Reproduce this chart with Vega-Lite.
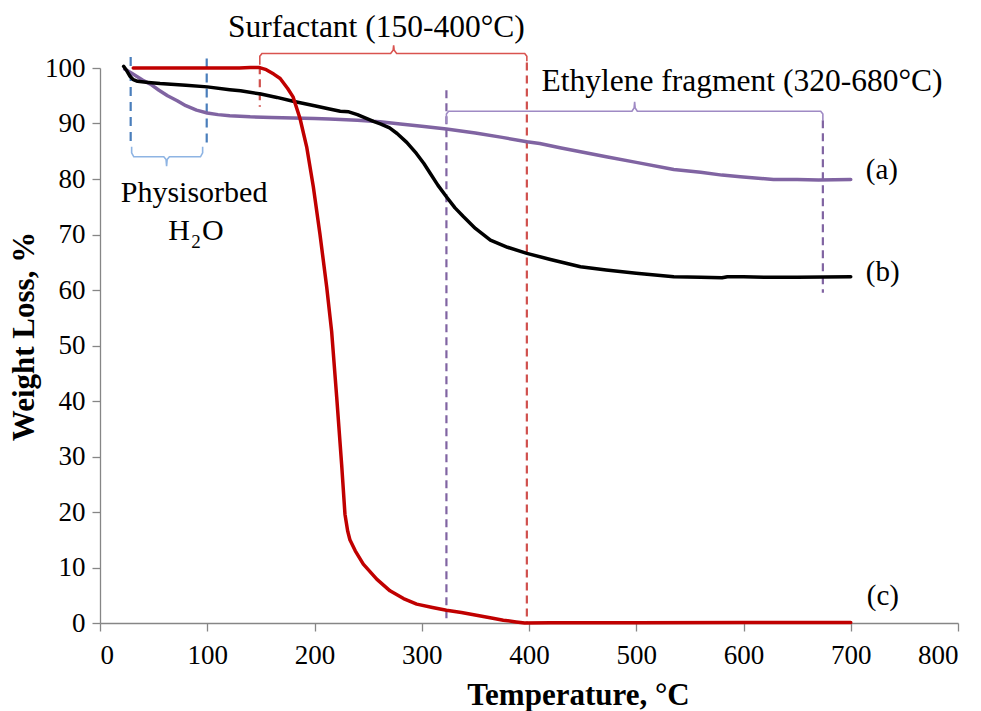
{
  "$schema": "https://vega.github.io/schema/vega-lite/v6.json",
  "width": 858,
  "height": 555,
  "autosize": {"type": "none"},
  "padding": {"left": 100, "top": 68, "right": 23, "bottom": 88},
  "background": "white",
  "config": {"view": {"stroke": null}, "font": "Liberation Serif"},
  "datasets": {
    "curves": [
      {"series": "a", "T": 23, "W": 99.8}, {"series": "a", "T": 30, "W": 99.0}, {"series": "a", "T": 40, "W": 97.8},
      {"series": "a", "T": 47, "W": 97.1}, {"series": "a", "T": 55, "W": 96.0}, {"series": "a", "T": 63, "W": 95.0},
      {"series": "a", "T": 72, "W": 94.1}, {"series": "a", "T": 80, "W": 93.2}, {"series": "a", "T": 90, "W": 92.4},
      {"series": "a", "T": 100, "W": 91.9}, {"series": "a", "T": 110, "W": 91.6}, {"series": "a", "T": 121, "W": 91.4},
      {"series": "a", "T": 140, "W": 91.2}, {"series": "a", "T": 160, "W": 91.1}, {"series": "a", "T": 180, "W": 91.0},
      {"series": "a", "T": 200, "W": 90.9}, {"series": "a", "T": 214, "W": 90.8}, {"series": "a", "T": 240, "W": 90.6},
      {"series": "a", "T": 261, "W": 90.3}, {"series": "a", "T": 280, "W": 89.9}, {"series": "a", "T": 300, "W": 89.5},
      {"series": "a", "T": 323, "W": 89.0}, {"series": "a", "T": 350, "W": 88.3}, {"series": "a", "T": 375, "W": 87.5},
      {"series": "a", "T": 398, "W": 86.7}, {"series": "a", "T": 410, "W": 86.4}, {"series": "a", "T": 430, "W": 85.6},
      {"series": "a", "T": 448, "W": 84.9}, {"series": "a", "T": 472, "W": 84.0}, {"series": "a", "T": 500, "W": 83.0},
      {"series": "a", "T": 535, "W": 81.7}, {"series": "a", "T": 560, "W": 81.2}, {"series": "a", "T": 580, "W": 80.7},
      {"series": "a", "T": 597, "W": 80.4}, {"series": "a", "T": 628, "W": 79.9}, {"series": "a", "T": 650, "W": 79.9},
      {"series": "a", "T": 670, "W": 79.8}, {"series": "a", "T": 700, "W": 79.9},
      {"series": "b", "T": 22, "W": 100.3}, {"series": "b", "T": 25, "W": 99.5}, {"series": "b", "T": 28, "W": 98.5},
      {"series": "b", "T": 31, "W": 97.9}, {"series": "b", "T": 35, "W": 97.6}, {"series": "b", "T": 45, "W": 97.4},
      {"series": "b", "T": 56, "W": 97.2}, {"series": "b", "T": 80, "W": 96.9}, {"series": "b", "T": 100, "W": 96.6},
      {"series": "b", "T": 121, "W": 96.1}, {"series": "b", "T": 131, "W": 95.9}, {"series": "b", "T": 150, "W": 95.3},
      {"series": "b", "T": 165, "W": 94.7}, {"series": "b", "T": 180, "W": 94.0}, {"series": "b", "T": 200, "W": 93.2},
      {"series": "b", "T": 214, "W": 92.6}, {"series": "b", "T": 224, "W": 92.2}, {"series": "b", "T": 232, "W": 92.1},
      {"series": "b", "T": 240, "W": 91.6}, {"series": "b", "T": 255, "W": 90.4}, {"series": "b", "T": 262, "W": 89.9},
      {"series": "b", "T": 270, "W": 89.2}, {"series": "b", "T": 277, "W": 88.2}, {"series": "b", "T": 286, "W": 86.6},
      {"series": "b", "T": 295, "W": 84.6}, {"series": "b", "T": 302, "W": 82.8}, {"series": "b", "T": 308, "W": 81.0},
      {"series": "b", "T": 315, "W": 78.9}, {"series": "b", "T": 323, "W": 76.8}, {"series": "b", "T": 331, "W": 74.8},
      {"series": "b", "T": 339, "W": 73.2}, {"series": "b", "T": 350, "W": 71.1}, {"series": "b", "T": 364, "W": 69.0},
      {"series": "b", "T": 380, "W": 67.7}, {"series": "b", "T": 398, "W": 66.6}, {"series": "b", "T": 420, "W": 65.5},
      {"series": "b", "T": 448, "W": 64.2}, {"series": "b", "T": 472, "W": 63.6}, {"series": "b", "T": 500, "W": 63.0},
      {"series": "b", "T": 535, "W": 62.4}, {"series": "b", "T": 560, "W": 62.3}, {"series": "b", "T": 580, "W": 62.2},
      {"series": "b", "T": 585, "W": 62.4}, {"series": "b", "T": 600, "W": 62.4}, {"series": "b", "T": 620, "W": 62.3},
      {"series": "b", "T": 650, "W": 62.3}, {"series": "b", "T": 700, "W": 62.4},
      {"series": "c", "T": 31, "W": 100}, {"series": "c", "T": 60, "W": 100}, {"series": "c", "T": 100, "W": 100},
      {"series": "c", "T": 130, "W": 100}, {"series": "c", "T": 140, "W": 100.1}, {"series": "c", "T": 148, "W": 100.1},
      {"series": "c", "T": 155, "W": 99.7}, {"series": "c", "T": 162, "W": 98.9}, {"series": "c", "T": 168, "W": 98.1},
      {"series": "c", "T": 175, "W": 96.3}, {"series": "c", "T": 180, "W": 94.8}, {"series": "c", "T": 186.5, "W": 90.9},
      {"series": "c", "T": 192.7, "W": 85.8}, {"series": "c", "T": 198.9, "W": 78.6}, {"series": "c", "T": 205, "W": 70.2},
      {"series": "c", "T": 211.4, "W": 60.5}, {"series": "c", "T": 216, "W": 52.5}, {"series": "c", "T": 220.7, "W": 40.7},
      {"series": "c", "T": 225.3, "W": 28.6}, {"series": "c", "T": 228.4, "W": 19.6}, {"series": "c", "T": 231, "W": 16.5},
      {"series": "c", "T": 233, "W": 15.0}, {"series": "c", "T": 238, "W": 13.0}, {"series": "c", "T": 245.5, "W": 10.6},
      {"series": "c", "T": 258, "W": 7.9}, {"series": "c", "T": 270.4, "W": 5.8}, {"series": "c", "T": 283, "W": 4.4},
      {"series": "c", "T": 295.3, "W": 3.4}, {"series": "c", "T": 310, "W": 2.8}, {"series": "c", "T": 323, "W": 2.3},
      {"series": "c", "T": 337, "W": 1.9}, {"series": "c", "T": 351, "W": 1.4}, {"series": "c", "T": 365, "W": 0.9},
      {"series": "c", "T": 376, "W": 0.5}, {"series": "c", "T": 388, "W": 0.2}, {"series": "c", "T": 396, "W": 0.0},
      {"series": "c", "T": 420, "W": 0.05}, {"series": "c", "T": 500, "W": 0.05}, {"series": "c", "T": 600, "W": 0.1},
      {"series": "c", "T": 700, "W": 0.1}
    ],
    "guides": [
      {"g": "blue", "T": 28.6, "W": 102.0, "W2": 86.2},
      {"g": "blue", "T": 99.5, "W": 101.7, "W2": 86.4},
      {"g": "red", "T": 149, "W": 100.3, "W2": 93.0},
      {"g": "red", "T": 398, "W": 101.0, "W2": 0},
      {"g": "purple", "T": 323, "W": 96.0, "W2": 0},
      {"g": "purple", "T": 674, "W": 90.6, "W2": 59.5}
    ],
    "braces": [
      {"b": "blue", "i": 0, "T": 29.5, "W": 85.8}, {"b": "blue", "i": 1, "T": 29.5, "W": 84.7},
      {"b": "blue", "i": 2, "T": 31.5, "W": 84.0}, {"b": "blue", "i": 3, "T": 59.5, "W": 84.0},
      {"b": "blue", "i": 4, "T": 61.6, "W": 83.5}, {"b": "blue", "i": 5, "T": 62.1, "W": 82.3},
      {"b": "blue", "i": 6, "T": 62.6, "W": 83.5}, {"b": "blue", "i": 7, "T": 64.7, "W": 84.0},
      {"b": "blue", "i": 8, "T": 93.7, "W": 84.0}, {"b": "blue", "i": 9, "T": 95.7, "W": 84.7},
      {"b": "blue", "i": 10, "T": 95.7, "W": 85.8},
      {"b": "red", "i": 0, "T": 149, "W": 100.6}, {"b": "red", "i": 1, "T": 149, "W": 102.1},
      {"b": "red", "i": 2, "T": 151, "W": 102.6}, {"b": "red", "i": 3, "T": 271, "W": 102.6},
      {"b": "red", "i": 4, "T": 273.3, "W": 103.2}, {"b": "red", "i": 5, "T": 273.8, "W": 104.1},
      {"b": "red", "i": 6, "T": 274.3, "W": 103.2}, {"b": "red", "i": 7, "T": 276.6, "W": 102.6},
      {"b": "red", "i": 8, "T": 396, "W": 102.6}, {"b": "red", "i": 9, "T": 398, "W": 102.1},
      {"b": "red", "i": 10, "T": 398, "W": 101.2},
      {"b": "purple", "i": 0, "T": 323, "W": 90.0}, {"b": "purple", "i": 1, "T": 323, "W": 91.7},
      {"b": "purple", "i": 2, "T": 325, "W": 92.2}, {"b": "purple", "i": 3, "T": 496, "W": 92.2},
      {"b": "purple", "i": 4, "T": 498, "W": 92.8}, {"b": "purple", "i": 5, "T": 498.5, "W": 93.9},
      {"b": "purple", "i": 6, "T": 499, "W": 92.8}, {"b": "purple", "i": 7, "T": 501, "W": 92.2},
      {"b": "purple", "i": 8, "T": 672, "W": 92.2}, {"b": "purple", "i": 9, "T": 674, "W": 91.7},
      {"b": "purple", "i": 10, "T": 674, "W": 90.6}
    ],
    "headings": [
      {"text": "Surfactant (150-400°C)", "T": 257.7, "W": 105.6},
      {"text": "Ethylene fragment (320-680°C)", "T": 598.6, "W": 95.8}
    ],
    "physisorbed": [{"text": "Physisorbed", "T": 87.7, "W": 75.9}],
    "h": [{"text": "H", "T": 83.9, "W": 69.0}],
    "sub": [{"text": "2", "T": 89.5, "W": 67.6}],
    "o": [{"text": "O", "T": 95.1, "W": 69.0}],
    "serieslabels": [
      {"text": "(a)", "T": 714, "W": 81.6},
      {"text": "(b)", "T": 714, "W": 63.3},
      {"text": "(c)", "T": 715, "W": 4.8}
    ]
  },
  "encoding": {
    "x": {
      "field": "T", "type": "quantitative",
      "scale": {"domain": [0, 800], "nice": false, "zero": false},
      "axis": {
        "values": [0, 100, 200, 300, 400, 500, 600, 700, 800],
        "title": "Temperature, °C", "grid": false,
        "tickSize": 8, "labelPadding": 11, "labelFontSize": 27, "labelFont": "Liberation Serif", "labelColor": "#000000",
        "titleFont": "Liberation Serif", "titleFontSize": 31, "titleFontWeight": "bold", "titleColor": "#000000",
        "domainColor": "#868686", "tickColor": "#868686", "domainWidth": 1.3, "tickWidth": 1.3,
        "titleX": 478, "titleY": 81, "titleBaseline": "alphabetic", "titleAlign": "center"
      }
    },
    "y": {
      "field": "W", "type": "quantitative",
      "scale": {"domain": [0, 100], "nice": false, "zero": false},
      "axis": {
        "values": [0, 10, 20, 30, 40, 50, 60, 70, 80, 90, 100],
        "title": "Weight Loss, %", "grid": false,
        "tickSize": 8, "labelPadding": 7, "labelFontSize": 27, "labelFont": "Liberation Serif", "labelColor": "#000000",
        "titleFont": "Liberation Serif", "titleFontSize": 31, "titleFontWeight": "bold", "titleColor": "#000000",
        "domainColor": "#868686", "tickColor": "#868686", "domainWidth": 1.3, "tickWidth": 1.3,
        "titleX": -67, "titleY": 268, "titleBaseline": "alphabetic", "titleAlign": "center", "titleAngle": -90
      }
    }
  },
  "layer": [
    {
      "data": {"name": "guides"},
      "transform": [{"filter": "datum.g === 'blue'"}],
      "mark": {"type": "rule", "color": "#4a7ebb", "strokeWidth": 2.2, "strokeDash": [9, 6]},
      "encoding": {"y2": {"field": "W2"}}
    },
    {
      "data": {"name": "guides"},
      "transform": [{"filter": "datum.g === 'red'"}],
      "mark": {"type": "rule", "color": "#d0504d", "strokeWidth": 2.2, "strokeDash": [8, 5]},
      "encoding": {"y2": {"field": "W2"}}
    },
    {
      "data": {"name": "guides"},
      "transform": [{"filter": "datum.g === 'purple'"}],
      "mark": {"type": "rule", "color": "#8064a2", "strokeWidth": 2.2, "strokeDash": [8, 5]},
      "encoding": {"y2": {"field": "W2"}}
    },
    {
      "data": {"name": "braces"},
      "transform": [{"filter": "datum.b === 'blue'"}],
      "mark": {"type": "line", "color": "#8eb4e3", "strokeWidth": 1.6},
      "encoding": {"order": {"field": "i", "type": "quantitative"}}
    },
    {
      "data": {"name": "braces"},
      "transform": [{"filter": "datum.b === 'red'"}],
      "mark": {"type": "line", "color": "#d9534f", "strokeWidth": 1.6},
      "encoding": {"order": {"field": "i", "type": "quantitative"}}
    },
    {
      "data": {"name": "braces"},
      "transform": [{"filter": "datum.b === 'purple'"}],
      "mark": {"type": "line", "color": "#9f8ac4", "strokeWidth": 1.6},
      "encoding": {"order": {"field": "i", "type": "quantitative"}}
    },
    {
      "data": {"name": "curves"},
      "mark": {"type": "line", "strokeWidth": 3.5, "strokeJoin": "round", "strokeCap": "round"},
      "encoding": {
        "color": {"field": "series", "type": "nominal", "scale": {"domain": ["a", "b", "c"], "range": ["#8064a2", "#000000", "#c00000"]}, "legend": null},
        "order": {"field": "T", "type": "quantitative"}
      }
    },
    {
      "data": {"name": "headings"},
      "mark": {"type": "text", "font": "Liberation Serif", "fontSize": 31.5, "align": "center", "baseline": "alphabetic", "color": "#000000"},
      "encoding": {"text": {"field": "text"}}
    },
    {
      "data": {"name": "physisorbed"},
      "mark": {"type": "text", "font": "Liberation Serif", "fontSize": 30, "align": "center", "baseline": "alphabetic", "color": "#000000"},
      "encoding": {"text": {"field": "text"}}
    },
    {
      "data": {"name": "h"},
      "mark": {"type": "text", "font": "Liberation Serif", "fontSize": 30, "align": "right", "baseline": "alphabetic", "color": "#000000"},
      "encoding": {"text": {"field": "text"}}
    },
    {
      "data": {"name": "sub"},
      "mark": {"type": "text", "font": "Liberation Serif", "fontSize": 19, "align": "center", "baseline": "alphabetic", "color": "#000000"},
      "encoding": {"text": {"field": "text"}}
    },
    {
      "data": {"name": "o"},
      "mark": {"type": "text", "font": "Liberation Serif", "fontSize": 30, "align": "left", "baseline": "alphabetic", "color": "#000000"},
      "encoding": {"text": {"field": "text"}}
    },
    {
      "data": {"name": "serieslabels"},
      "mark": {"type": "text", "font": "Liberation Serif", "fontSize": 29, "align": "left", "baseline": "middle", "color": "#000000"},
      "encoding": {"text": {"field": "text"}}
    }
  ]
}
